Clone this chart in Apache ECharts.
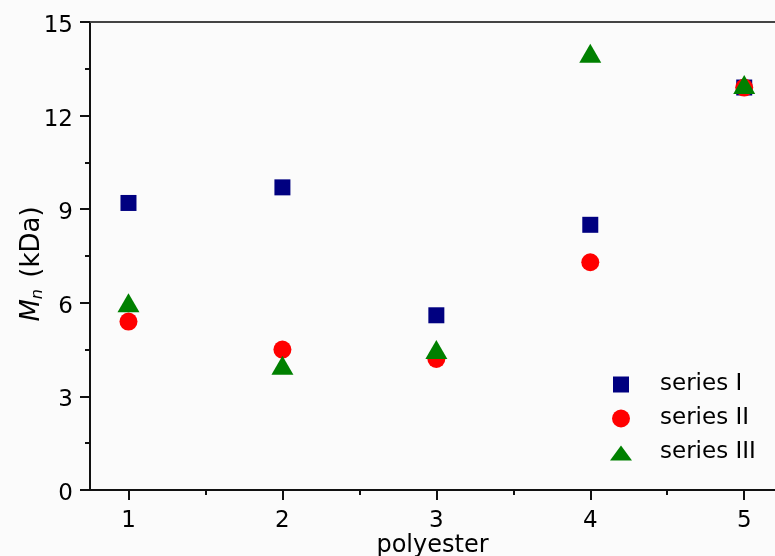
<!DOCTYPE html>
<html>
<head>
<meta charset="utf-8">
<script src="https://cdn.jsdelivr.net/npm/echarts@6/dist/echarts.min.js"></script>
<style>
  html, body { margin: 0; padding: 0; background: #fbfbfb; }
  #chart { width: 775px; height: 556px; }
</style>
</head>
<body>
<div id="chart"></div>
<script>
var polyester = [1, 2, 3, 4, 5];
var seriesI = [9.2, 9.7, 5.6, 8.5, 12.9];
var seriesII = [5.4, 4.5, 4.2, 7.3, 12.9];
var seriesIII = [6.0, 4.0, 4.5, 14.0, 13.0];
var xMinorTicks = [1.5, 2.5, 3.5, 4.5];

function pairs(ys) {
  return polyester.map(function (x, i) { return [x, ys[i]]; });
}

var font = "'DejaVu Sans', 'Liberation Sans', sans-serif";
var ink = '#111';
var chart = echarts.init(document.getElementById('chart'));

chart.setOption({
  backgroundColor: '#fbfbfb',
  animation: false,
  grid: { left: 90, top: 22, right: 0, bottom: 66, outerBoundsMode: 'none', containLabel: false },
  legend: {
    orient: 'vertical',
    left: 605,
    top: 368,
    itemWidth: 22,
    itemHeight: 18,
    itemGap: 11,
    textStyle: { fontFamily: font, fontSize: 23, color: '#000', padding: [0, 0, 0, 23] },
    data: [
      { name: 'series I', icon: 'path://M0,0M22,18M3,1L19,1L19,17L3,17Z' },
      { name: 'series II', icon: 'circle' },
      { name: 'series III', icon: 'path://M0,0M22,18M0,17L11,2L22,17Z' }
    ]
  },
  xAxis: [{
    type: 'value',
    min: 0.75,
    max: 5.2,
    name: 'polyester',
    nameLocation: 'middle',
    nameGap: 44,
    nameMoveOverlap: false,
    nameTextStyle: { fontFamily: font, fontSize: 24, color: '#000' },
    splitLine: { show: false },
    axisLine: { lineStyle: { color: ink, width: 2 } },
    axisTick: { length: 10, lineStyle: { color: ink, width: 2 }, customValues: polyester },
    axisLabel: { fontFamily: font, fontSize: 23, color: '#000', margin: 20, customValues: polyester }
  }, {
    type: 'value',
    min: 0.75,
    max: 5.2,
    position: 'bottom',
    splitLine: { show: false },
    axisLine: { show: false },
    axisTick: { length: 5, lineStyle: { color: ink, width: 2 }, customValues: xMinorTicks },
    axisLabel: { show: false }
  }, {
    type: 'value',
    min: 0.75,
    max: 5.2,
    position: 'top',
    splitLine: { show: false },
    axisLine: { lineStyle: { color: '#444', width: 2 } },
    axisTick: { show: false },
    axisLabel: { show: false }
  }],
  yAxis: {
    type: 'value',
    min: 0,
    max: 15,
    interval: 3,
    name: '{m|M}{s|n} (kDa)',
    nameLocation: 'middle',
    nameGap: 44,
    nameMoveOverlap: false,
    nameTextStyle: {
      fontFamily: font, fontSize: 26, color: '#000', padding: [0, 16, 0, 0],
      rich: {
        m: { fontFamily: font, fontSize: 26, fontStyle: 'italic', color: '#000' },
        s: { fontFamily: font, fontSize: 16, fontStyle: 'italic', color: '#000', padding: [12, 3, 0, 0] }
      }
    },
    splitLine: { show: false },
    axisLine: { lineStyle: { color: ink, width: 2 } },
    axisTick: { length: 10, lineStyle: { color: ink, width: 2 } },
    minorTick: { show: true, splitNumber: 2, length: 5, lineStyle: { color: ink, width: 2 } },
    axisLabel: {
      fontFamily: font, fontSize: 23, color: '#000', margin: 17,
      formatter: '{v|{value}}',
      rich: { v: { fontFamily: font, fontSize: 23, color: '#000', padding: [8, 0, 0, 0] } }
    }
  },
  series: [{
    name: 'series I',
    type: 'scatter',
    symbol: 'rect',
    symbolSize: 16,
    itemStyle: { color: '#000080', opacity: 1 },
    data: pairs(seriesI)
  }, {
    name: 'series II',
    type: 'scatter',
    symbol: 'circle',
    symbolSize: 18,
    itemStyle: { color: '#ff0000', opacity: 1 },
    data: pairs(seriesII)
  }, {
    name: 'series III',
    type: 'scatter',
    symbol: 'triangle',
    symbolSize: [22, 19],
    itemStyle: { color: '#008000', opacity: 1 },
    data: pairs(seriesIII)
  }]
});
</script>
</body>
</html>
